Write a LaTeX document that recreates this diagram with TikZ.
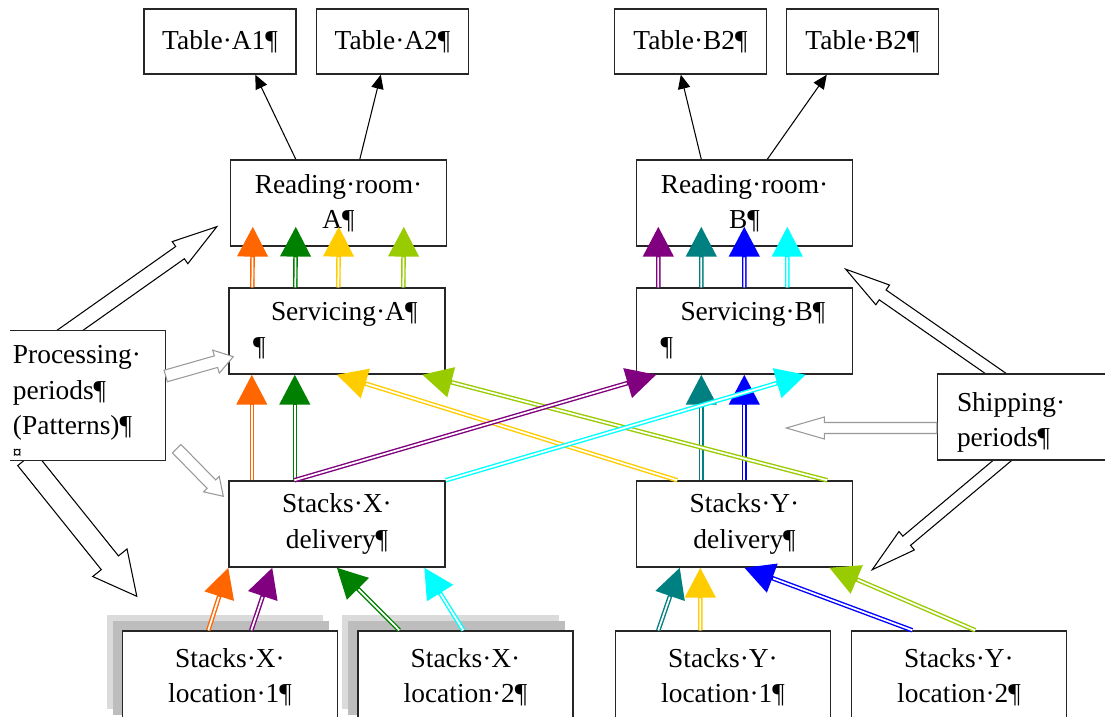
\documentclass[tikz,border=0pt]{standalone}
\usepackage{fontspec}
\setmainfont{Liberation Serif}
\usetikzlibrary{arrows.meta, calc, backgrounds}
\definecolor{orangeflow}{RGB}{255, 102, 0}
\definecolor{greenflow}{RGB}{0, 128, 0}
\definecolor{goldflow}{RGB}{255, 204, 0}
\definecolor{limeflow}{RGB}{153, 204, 0}
\definecolor{purpleflow}{RGB}{128, 0, 128}
\definecolor{tealflow}{RGB}{0, 128, 128}
\definecolor{blueflow}{RGB}{0, 0, 255}
\definecolor{cyanflow}{RGB}{0, 255, 255}

% block arrow: style, start, tip, half shaft, half head, head length
\newcommand{\blockarrow}[6]{%
  \coordinate (neck) at ($(#3)!#6!(#2)$);
  \draw[#1] ($(#2)!#4!90:(#3)$) -- ($(neck)!#4!90:(#3)$) -- ($(neck)!#5!90:(#3)$) -- (#3)
    -- ($(neck)!#5!-90:(#3)$) -- ($(neck)!#4!-90:(#3)$) -- ($(#2)!#4!-90:(#3)$) -- cycle;
}

\begin{document}
\begin{tikzpicture}[
        box/.style={draw=black!85, line width=0.8pt, fill=white, minimum width=4.32cm, minimum height=1.72cm, align=center, font=\fontsize{15.6}{20}\selectfont},
        tablebox/.style={box, minimum width=3.04cm, minimum height=1.30cm},
        lefttext/.style={box, align=left, text width=3.36cm, inner xsep=0.48cm},
        locbox/.style={box, minimum width=4.30cm, minimum height=1.84cm},
        flow/.style={draw=#1, line width=2.6pt, -{Triangle[length=17pt, width=17pt]}, postaction={draw=white, line width=1.0pt, -, shorten >=17.5pt}},
        linkarrow/.style={-{Triangle[length=8pt, width=7pt]}, line width=0.6pt},
        hollow/.style={draw=black, line width=0.6pt, fill=white},
        greyhollow/.style={draw=black!40, line width=0.6pt, fill=white}
    ]
        \useasboundingbox (0,0) rectangle (22.1,14.34);

        % tables
        \node[tablebox] (tabA1) at (4.40,13.51) {Table·A1¶};
        \node[tablebox] (tabA2) at (7.85,13.51) {Table·A2¶};
        \node[tablebox] (tabB1) at (13.81,13.51) {Table·B2¶};
        \node[tablebox] (tabB2) at (17.25,13.51) {Table·B2¶};

        % reading rooms and servicing
        \node[box] (roomA) at (6.77,10.28) {Reading·room·\\A¶};
        \node[box] (roomB) at (14.89,10.28) {Reading·room·\\B¶};
        \node[lefttext] (servA) at (6.74,7.72) {\hspace*{0.36cm}Servicing·A¶\\¶};
        \node[lefttext] (servB) at (14.89,7.72) {\hspace*{0.40cm}Servicing·B¶\\¶};

        % stacks
        \node[box] (stackX) at (6.74,3.86) {Stacks·X·\\delivery¶};
        \node[box] (stackY) at (14.89,3.86) {Stacks·Y·\\delivery¶};
        \node[locbox] (locX1) at (4.60,0.80) {Stacks·X·\\location·1¶};
        \node[locbox] (locX2) at (9.31,0.80) {Stacks·X·\\location·2¶};
        \node[locbox] (locY1) at (14.46,0.80) {Stacks·Y·\\location·1¶};
        \node[locbox] (locY2) at (19.18,0.80) {Stacks·Y·\\location·2¶};

        % periods
        \node[box, draw=none, align=left, text width=3.0cm, inner xsep=0.04cm, inner ysep=0pt, minimum width=3.08cm, minimum height=2.58cm] (proc) at (1.76,6.43)
            {\rule{0pt}{18pt}Processing·\\periods¶\\(Patterns)¶\\[-6pt]{\fontsize{10}{10}\selectfont\bfseries ¤}};
        \draw[black!85, line width=0.8pt] (proc.north west) -- (proc.north east) -- (proc.south east) -- (proc.south west);
        \node[box, align=left, text width=2.67cm, inner xsep=0.39cm, inner ysep=0pt, minimum width=3.45cm] (ship) at (20.475,6.00) {\rule{0pt}{17pt}Shipping·\\periods¶};

        \begin{pgfonlayer}{background}
            \fill[white] (0,0) rectangle (22.1,14.34);
            % shadows
            \fill[black!14] ([shift={(-0.30,0.30)}]locX1.south west) rectangle ([shift={(-0.30,0.30)}]locX1.north east);
            \fill[black!26] ([shift={(-0.18,0.18)}]locX1.south west) rectangle ([shift={(-0.18,0.18)}]locX1.north east);
            \fill[black!14] ([shift={(-0.30,0.30)}]locX2.south west) rectangle ([shift={(-0.30,0.30)}]locX2.north east);
            \fill[black!26] ([shift={(-0.18,0.18)}]locX2.south west) rectangle ([shift={(-0.18,0.18)}]locX2.north east);
            % period arrows behind the boxes
            \coordinate (procUp) at ([shift={(0.94,-0.18)}]proc.north west);
            \coordinate (roomAin) at ([shift={(-0.26,0.40)}]roomA.south west);
            \blockarrow{hollow}{procUp}{roomAin}{0.15cm}{0.27cm}{0.9cm}
            \coordinate (procDown) at ([shift={(0.32,0.04)}]proc.south west);
            \coordinate (locX1in) at ([shift={(0.30,0.68)}]locX1.north west);
            \blockarrow{hollow}{procDown}{locX1in}{0.22cm}{0.44cm}{0.86cm}
            \coordinate (shipUp) at ([shift={(1.49,-0.22)}]ship.north west);
            \coordinate (roomBin) at ([shift={(-0.15,-0.45)}]roomB.south east);
            \blockarrow{hollow}{shipUp}{roomBin}{0.12cm}{0.24cm}{0.9cm}
            \coordinate (shipDown) at ([shift={(1.46,0.13)}]ship.south west);
            \coordinate (stackYin) at ([shift={(0.38,-0.04)}]stackY.south east);
            \blockarrow{hollow}{shipDown}{stackYin}{0.12cm}{0.24cm}{0.9cm}
        \end{pgfonlayer}

        % grey period arrows
        \coordinate (procServ) at ([yshift=0.39cm]proc.east);
        \coordinate (servAin) at ([shift={(0.10,0.36)}]servA.south west);
        \blockarrow{greyhollow}{procServ}{servAin}{0.12cm}{0.24cm}{0.36cm}
        \coordinate (procStack) at ([shift={(0.22,0.24)}]proc.south east);
        \coordinate (stackXin) at ([shift={(-0.10,-0.32)}]stackX.north west);
        \blockarrow{greyhollow}{procStack}{stackXin}{0.12cm}{0.22cm}{0.34cm}
        \coordinate (shipServ) at ([yshift=-0.22cm]ship.west);
        \coordinate (servBin) at ([shift={(-3.01,-0.22)}]ship.west);
        \blockarrow{greyhollow}{shipServ}{servBin}{0.11cm}{0.22cm}{0.76cm}

        % reading rooms to tables
        \draw[linkarrow] ([xshift=1.32cm]roomA.north west) -- ([xshift=2.24cm]tabA1.south west);
        \draw[linkarrow] ([xshift=2.60cm]roomA.north west) -- ([xshift=1.30cm]tabA2.south west);
        \draw[linkarrow] ([xshift=1.31cm]roomB.north west) -- ([xshift=1.34cm]tabB1.south west);
        \draw[linkarrow] ([xshift=2.63cm]roomB.north west) -- ([xshift=0.82cm]tabB2.south west);

        % servicing to reading rooms
        \draw[flow=orangeflow] ([xshift=0.48cm]servA.north west) -- ([shift={(0.46,0.40)}]roomA.south west);
        \draw[flow=greenflow] ([xshift=1.34cm]servA.north west) -- ([shift={(1.32,0.40)}]roomA.south west);
        \draw[flow=goldflow] ([xshift=2.20cm]servA.north west) -- ([shift={(2.18,0.40)}]roomA.south west);
        \draw[flow=limeflow] ([xshift=3.50cm]servA.north west) -- ([shift={(3.48,0.40)}]roomA.south west);
        \draw[flow=purpleflow] ([xshift=0.45cm]servB.north west) -- ([shift={(0.45,0.40)}]roomB.south west);
        \draw[flow=tealflow] ([xshift=1.31cm]servB.north west) -- ([shift={(1.31,0.40)}]roomB.south west);
        \draw[flow=blueflow] ([xshift=2.17cm]servB.north west) -- ([shift={(2.17,0.40)}]roomB.south west);
        \draw[flow=cyanflow] ([xshift=3.03cm]servB.north west) -- ([shift={(3.03,0.40)}]roomB.south west);

        % delivery to servicing
        \draw[flow=orangeflow] ([xshift=0.47cm]stackX.north west) -- ([xshift=0.47cm]servA.south west);
        \draw[flow=greenflow] ([xshift=1.33cm]stackX.north west) -- ([xshift=1.33cm]servA.south west);
        \draw[flow=tealflow] ([xshift=1.31cm]stackY.north west) -- ([xshift=1.31cm]servB.south west);
        \draw[flow=blueflow] ([xshift=2.17cm]stackY.north west) -- ([xshift=2.17cm]servB.south west);
        \draw[flow=goldflow] ([xshift=0.83cm]stackY.north west) -- ([xshift=2.17cm]servA.south west);
        \draw[flow=limeflow] ([xshift=3.83cm]stackY.north west) -- ([xshift=3.88cm]servA.south west);
        \draw[flow=purpleflow] ([xshift=1.32cm]stackX.north west) -- ([xshift=0.41cm]servB.south west);
        \draw[flow=cyanflow] (stackX.north east) -- ([xshift=3.40cm]servB.south west);

        % locations to delivery
        \draw[flow=orangeflow] ([xshift=1.73cm]locX1.north west) -- (stackX.south west);
        \draw[flow=purpleflow] ([xshift=2.59cm]locX1.north west) -- ([xshift=0.88cm]stackX.south west);
        \draw[flow=greenflow] ([xshift=0.84cm]locX2.north west) -- ([xshift=2.17cm]stackX.south west);
        \draw[flow=cyanflow] ([xshift=2.12cm]locX2.north west) -- ([xshift=3.92cm]stackX.south west);
        \draw[flow=tealflow] ([xshift=0.87cm]locY1.north west) -- ([xshift=0.88cm]stackY.south west);
        \draw[flow=goldflow] ([xshift=1.71cm]locY1.north west) -- ([xshift=1.29cm]stackY.south west);
        \draw[flow=blueflow] ([xshift=1.23cm]locY2.north west) -- ([xshift=2.17cm]stackY.south west);
        \draw[flow=limeflow] ([xshift=2.49cm]locY2.north west) -- ([xshift=3.87cm]stackY.south west);
    \end{tikzpicture}
\end{document}
